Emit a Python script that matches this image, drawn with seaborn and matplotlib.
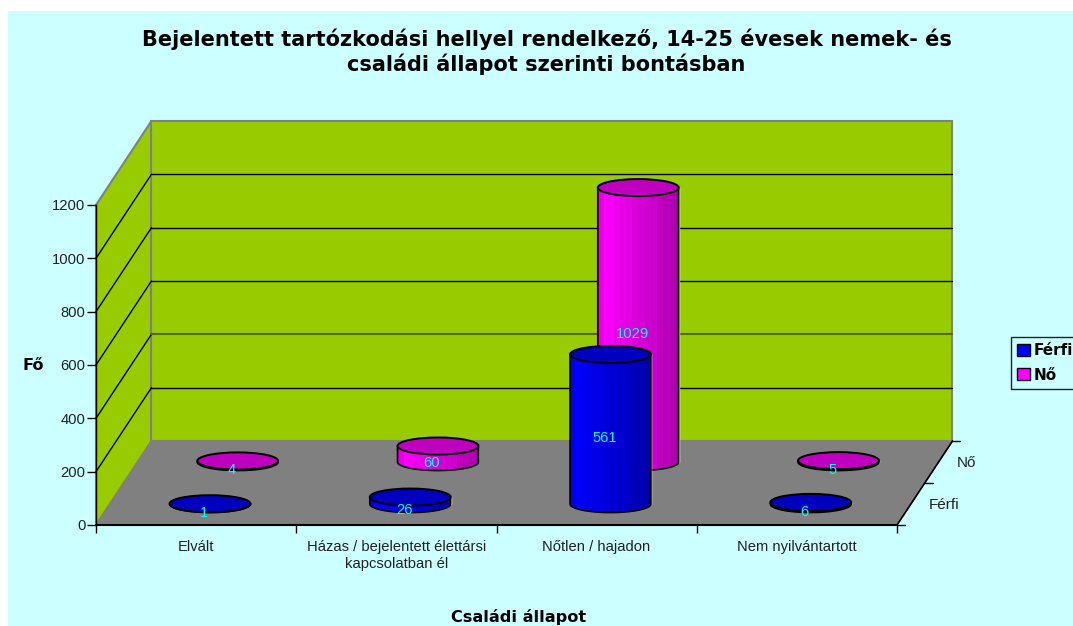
import numpy as np
import pandas as pd
import matplotlib
matplotlib.use("Agg")
import matplotlib.pyplot as plt
import seaborn as sns
from matplotlib.patches import Ellipse, PathPatch, Polygon, Patch, Rectangle
from matplotlib.path import Path

# data
categories = ["Elvált", "Házas / bejelentett élettársi\nkapcsolatban él", "Nőtlen / hajadon", "Nem nyilvántartott"]
ferfi = [1, 26, 561, 6]
no = [4, 60, 1029, 5]
series_names = ["Férfi", "Nő"]
y_ticks = [0, 200, 400, 600, 800, 1000, 1200]
title = "Bejelentett tartózkodási hellyel rendelkező, 14-25 évesek nemek- és\ncsaládi állapot szerinti bontásban"

# oblique 3d look: how far the back of the box is shifted, in data units
DX = 0.277
DY = 315
CYL_W = 0.404
CYL_H = 64
SHADE = [0.88, 0.93, 1, 0.96, 0.98, 0.92, 0.95, 0.90, 0.92, 0.88, 0.90, 0.86, 0.87, 0.82, 0.85,
         0.80, 0.82, 0.78, 0.80, 0.76, 0.74, 0.72, 0.74, 0.70, 0.68, 0.66]

sns.set_theme(style="white")
plt.rcParams["font.family"] = ["Liberation Sans"]

fig = plt.figure(figsize=(10.73, 6.26), dpi=100, facecolor="white")
fig.patches.append(Rectangle((8 / 1073, 0), 1, 1 - 11 / 626, transform=fig.transFigure,
                             facecolor="#CCFFFF", edgecolor="none", zorder=-10))
ax = fig.add_axes([96 / 1073, 1 - 525 / 626, 801 / 1073, 320 / 626])
ax.patch.set_visible(False)


def draw_cylinders(values, color, depth, z):
    xs = np.arange(len(values)) + 0.5 + depth * DX
    base = depth * DY
    df = pd.DataFrame({"pos": xs, "value": values})
    n_before = len(ax.patches)
    sns.barplot(data=df, x="pos", y="value", native_scale=True, width=CYL_W, color=color,
                saturation=1, errorbar=None, bottom=base, ax=ax, zorder=z)
    for bar in ax.patches[n_before:]:
        bar.set_clip_on(False)
    rgb = np.array(matplotlib.colors.to_rgb(color))
    strip = np.array([[rgb * s for s in SHADE]])
    for x, v in zip(xs, values):
        t = np.linspace(np.pi, 2 * np.pi, 40)
        left, right = x - CYL_W / 2, x + CYL_W / 2
        arc_x = x + CYL_W / 2 * np.cos(t)
        arc_y = base - CYL_H / 2 * np.sin(-t)
        px = np.r_[left, arc_x, right, left]
        py = np.r_[base + v, arc_y, base + v, base + v]
        body = PathPatch(Path(np.c_[px, py]), facecolor="none", edgecolor="black", lw=1.2,
                         clip_on=False, zorder=z + 0.2, joinstyle="round")
        ax.add_patch(body)
        im = ax.imshow(strip, extent=[left, right, base - CYL_H, base + v], aspect="auto",
                       interpolation="nearest", zorder=z + 0.1)
        im.set_clip_box(fig.bbox)
        im.set_clip_path(body)
        ax.add_patch(Ellipse((x, base + v), CYL_W, CYL_H, facecolor=rgb * 0.75, edgecolor="black",
                             lw=1.4, clip_on=False, zorder=z + 0.3))
        ax.annotate(str(v), (x, base + v / 2), xytext=(-6, -9), textcoords="offset pixels",
                    ha="center", va="center", color="#00FFFF", fontsize=10.6, zorder=20,
                    annotation_clip=False)


# walls and floor
left_wall = [(0, 0), (DX, DY), (DX, 1200 + DY), (0, 1200)]
back_wall = [(DX, DY), (4 + DX, DY), (4 + DX, 1200 + DY), (DX, 1200 + DY)]
floor = [(0, 0), (4, 0), (4 + DX, DY), (DX, DY)]
ax.add_patch(Polygon(left_wall, facecolor="#99CC00", edgecolor="#808080", lw=1.5, clip_on=False, zorder=0))
ax.add_patch(Polygon(back_wall, facecolor="#99CC00", edgecolor="#808080", lw=1.5, clip_on=False, zorder=0))
ax.add_patch(Polygon(floor, facecolor="#808080", edgecolor="#808080", lw=1, clip_on=False, zorder=0.5))
for v in y_ticks[1:-1]:
    ax.plot([0, DX], [v, v + DY], color="black", lw=1, clip_on=False, zorder=1)
    line_col = "#556B00" if v == 400 else "black"
    ax.plot([DX, 4 + DX], [v + DY, v + DY], color=line_col, lw=1.5 if v == 400 else 1,
            clip_on=False, zorder=1)

# depth axis
ax.plot([4, 4 + DX], [0, DY], color="black", lw=1.2, clip_on=False, zorder=2)
for d in [0, 0.5, 1]:
    ax.plot([4 + d * DX, 4 + d * DX + 0.04], [d * DY, d * DY], color="black", lw=1, clip_on=False, zorder=2)
for d, name in zip([0.25, 0.75], series_names):
    ax.annotate(name, (4 + d * DX, d * DY), xytext=(18, -1), textcoords="offset pixels", ha="left",
                va="center", fontsize=11, color="#222222", annotation_clip=False)

draw_cylinders(no, "#FF00FF", 0.75, 3)
draw_cylinders(ferfi, "#0000FF", 0.25, 5)

ax.set_xlim(0, 4)
ax.set_ylim(0, 1200)
ax.set_xlabel("")
ax.set_ylabel("")
ax.set_yticks(y_ticks)
ax.set_xticks(range(5))
ax.set_xticklabels([])
ax.set_xticks(np.arange(4) + 0.5, categories, minor=True, linespacing=1.3)
ax.tick_params(axis="x", which="major", length=6, width=1, color="black", bottom=True)
ax.tick_params(axis="x", which="minor", length=0, pad=10.5, labelsize=10.6, labelcolor="#222222", bottom=False)
ax.tick_params(axis="y", length=6.5, width=1, color="black", left=True, pad=1, labelsize=10.6, labelcolor="#222222")
for side in ["top", "right"]:
    ax.spines[side].set_visible(False)
ax.spines["left"].set_color("black")
ax.spines["left"].set_linewidth(1)
ax.spines["bottom"].set_color("black")
ax.spines["bottom"].set_linewidth(1.5)
ax.set_axisbelow(False)

fig.text(546.5 / 1073, 1 - 52 / 626, title, ha="center", va="center", fontsize=15, fontweight="bold",
         family="DejaVu Sans", color="black", linespacing=1.22)
fig.text(33 / 1073, 1 - 366 / 626, "Fő", ha="center", va="center", fontsize=11.6, fontweight="bold",
         family="DejaVu Sans", color="black")
fig.text(518.5 / 1073, 1 - 617 / 626, "Családi állapot", ha="center", va="center", fontsize=11.6,
         fontweight="bold", family="DejaVu Sans", color="black")

handles = [Patch(facecolor="#0000FF", edgecolor="black"), Patch(facecolor="#FF00FF", edgecolor="black")]
fig.legend(handles, series_names, loc="upper left", bbox_to_anchor=(1011 / 1073, 1 - 337 / 626),
           borderaxespad=0, fancybox=False, framealpha=1, facecolor="#CCFFFF", edgecolor="#222222",
           prop={"family": "DejaVu Sans", "weight": "bold", "size": 11}, labelcolor="black",
           handlelength=0.85, handleheight=0.85, handletextpad=0.25, borderpad=0.4, labelspacing=0.62)

fig.savefig("out.png", dpi=100)
